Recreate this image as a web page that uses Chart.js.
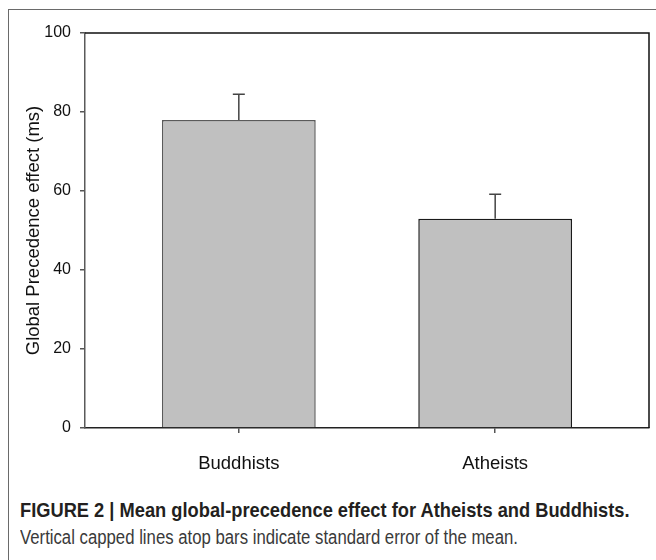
<!DOCTYPE html>
<html>
<head>
<meta charset="utf-8">
<script src="https://cdn.jsdelivr.net/npm/chart.js@4.4.1/dist/chart.umd.min.js"></script>
<style>
  html, body { margin: 0; padding: 0; background: #fff; }
  #wrap { position: relative; width: 656px; height: 560px; overflow: hidden; }
  #frame { position: absolute; left: 8px; top: 9px; width: 700px; height: 600px;
           border-left: 1.5px solid #6a6a6a; border-top: 1.5px solid #6a6a6a; }
  #chartBox { position: absolute; left: 0; top: 0; width: 656px; height: 480px; }
  .cap { position: absolute; left: 20px; white-space: nowrap; color: #231f20;
         transform-origin: 0 0;
         font-family: "Liberation Sans Narrow", "Liberation Sans", Arial, sans-serif; }
  #cap1 { top: 498px; font-size: 21px; font-weight: bold; }
  #cap2 { top: 526px; font-size: 19.5px; color: #3a3a3a; }
</style>
</head>
<body>
<div id="wrap">
  <div id="frame"></div>
  <div id="chartBox"><canvas id="precedenceChart"></canvas></div>
  <div class="cap" id="cap1" data-w="610">FIGURE 2 | Mean global-precedence effect for Atheists and Buddhists.</div>
  <div class="cap" id="cap2" data-w="498">Vertical capped lines atop bars indicate standard error of the mean.</div>
</div>
<script>
const groups = ["Buddhists", "Atheists"];
const groupPos = [1, 2];
const meanEffect = [78, 53];
const stdError = [6.5, 6.2];
const yTicks = [0, 20, 40, 60, 80, 100];

// squeeze caption lines to the condensed width of the original
document.querySelectorAll(".cap").forEach(el => {
    const k = Number(el.dataset.w) / el.scrollWidth;
    el.style.transform = `scaleX(${k})`;
});

// draws the upward capped SEM lines
const errorBars = {
    id: "errorBars",
    afterDatasetsDraw(chart) {
        const ctx = chart.ctx;
        const yScale = chart.scales.y;
        const meta = chart.getDatasetMeta(0);
        ctx.save();
        ctx.strokeStyle = "#444";
        ctx.lineWidth = 1.5;
        meta.data.forEach((bar, i) => {
            const top = yScale.getPixelForValue(meanEffect[i] + stdError[i]);
            ctx.beginPath();
            ctx.moveTo(bar.x, bar.y);
            ctx.lineTo(bar.x, top);
            ctx.moveTo(bar.x - 6, top);
            ctx.lineTo(bar.x + 6, top);
            ctx.stroke();
        });
        ctx.restore();
    }
};

// closes the plot box on top and right
const plotBox = {
    id: "plotBox",
    afterDraw(chart) {
        const { left, top, right, bottom } = chart.chartArea;
        const ctx = chart.ctx;
        ctx.save();
        ctx.strokeStyle = "#111";
        ctx.lineWidth = 1.5;
        ctx.beginPath();
        ctx.moveTo(left, top);
        ctx.lineTo(right, top);
        ctx.lineTo(right, bottom);
        ctx.stroke();
        ctx.restore();
    }
};

const ctx = document.getElementById("precedenceChart").getContext("2d");
new Chart(ctx, {
    type: "bar",
    data: {
        datasets: [{
            label: "Global Precedence effect",
            data: groupPos.map((x, i) => ({ x: x, y: meanEffect[i] })),
            backgroundColor: "#c0c0c0",
            borderColor: ["#5a5a5a", "#1a1a1a"],
            borderWidth: 1.5,
            barPercentage: 0.6,
            categoryPercentage: 1.0
        }]
    },
    options: {
        responsive: true,
        maintainAspectRatio: false,
        animation: false,
        layout: { padding: { left: 0, top: 33, right: 7, bottom: 0 } },
        plugins: { legend: { display: false }, tooltip: { enabled: false } },
        scales: {
            x: {
                type: "linear",
                min: 0.4,
                max: 2.6,
                offset: false,
                afterBuildTicks: s => { s.ticks = groupPos.map(v => ({ value: v })); },
                afterFit: s => { s.height = 52; },
                border: { color: "#222", width: 1.5 },
                grid: { offset: false, drawOnChartArea: false, tickLength: 5, color: "#555", lineWidth: 1.5 },
                ticks: {
                    callback: (v, i) => groups[i],
                    maxRotation: 0,
                    padding: 20,
                    color: "#111",
                    font: { family: "'Liberation Sans', Arial", size: 18.5 }
                }
            },
            y: {
                min: 0,
                max: 100,
                afterBuildTicks: s => { s.ticks = yTicks.map(v => ({ value: v })); },
                afterFit: s => { s.width = 85; },
                border: { color: "#5a5a5a", width: 1.5 },
                grid: { drawOnChartArea: false, tickLength: 5, color: "#555", lineWidth: 1.5 },
                ticks: {
                    padding: 9,
                    color: "#111",
                    font: { family: "'Liberation Sans', Arial", size: 16 }
                },
                title: {
                    display: true,
                    text: "Global Precedence effect (ms)",
                    color: "#111",
                    padding: { top: 23, bottom: 0 },
                    font: { family: "'Liberation Sans', Arial", size: 18.5 }
                }
            }
        }
    },
    plugins: [errorBars, plotBox]
});
</script>
</body>
</html>
